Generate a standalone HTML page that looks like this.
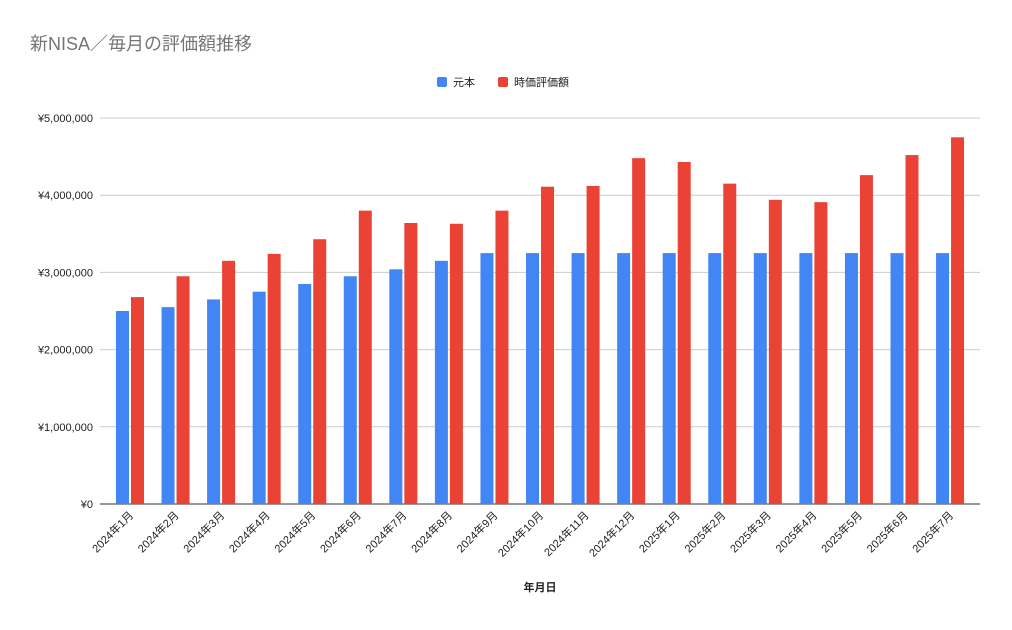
<!DOCTYPE html>
<html><head><meta charset="utf-8"><style>
body{margin:0;background:#fff;font-family:"Liberation Sans","Noto Sans CJK JP",sans-serif}
</style></head><body>
<svg id="c" width="1012" height="625" xmlns="http://www.w3.org/2000/svg" font-family="Liberation Sans, Noto Sans CJK JP, sans-serif">
<rect width="1012" height="625" fill="#fff"/>
<text x="30" y="50" font-size="18" fill="#757575">新NISA／毎月の評価額推移</text>
<g>
<rect x="437" y="77" width="10" height="10" rx="2" fill="#4285f4"/>
<text x="453" y="86" font-size="11" fill="#222">元本</text>
<rect x="498" y="77" width="10" height="10" rx="2" fill="#ea4335"/>
<text x="514" y="86" font-size="11" fill="#222">時価評価額</text>
</g>
<g id="grid"></g><g id="bars"></g><g id="xl"></g>
<text x="540" y="591" font-size="11" font-weight="bold" text-anchor="middle" fill="#222">年月日</text>
</svg>
<script>
const categories=["2024年1月","2024年2月","2024年3月","2024年4月","2024年5月","2024年6月","2024年7月","2024年8月","2024年9月","2024年10月","2024年11月","2024年12月","2025年1月","2025年2月","2025年3月","2025年4月","2025年5月","2025年6月","2025年7月"];
const principal=[2500000,2550000,2650000,2750000,2850000,2950000,3040000,3150000,3250000,3250000,3250000,3250000,3250000,3250000,3250000,3250000,3250000,3250000,3250000];
const marketValue=[2680000,2950000,3150000,3240000,3430000,3800000,3640000,3630000,3800000,4110000,4120000,4480000,4430000,4150000,3940000,3910000,4260000,4520000,4750000];
const yTicks=[0,1000000,2000000,3000000,4000000,5000000];
const yTickLabels=["¥0","¥1,000,000","¥2,000,000","¥3,000,000","¥4,000,000","¥5,000,000"];
const NS="http://www.w3.org/2000/svg";
const y0=504,ppu=386/5000000,xs=107.2,band=45.56;
const y=v=>y0-v*ppu;
const x=i=>xs+band*(i+0.5);
function mk(t,a,p){const e=document.createElementNS(NS,t);for(const k in a)e.setAttribute(k,a[k]);p.appendChild(e);return e;}
const g=document.getElementById('grid');
yTicks.forEach((v,i)=>{
 const l=mk('line',{x1:100,x2:980,y1:y(v),y2:y(v),stroke:i==0?'#333':'#ccc','stroke-width':1},g);
 
 
 const t=mk('text',{x:93,y:y(v)+4,'font-size':11,'text-anchor':'end',fill:'#222'},g);
 t.textContent=yTickLabels[i];
 
 
});
const b=document.getElementById('bars'),xl=document.getElementById('xl');
categories.forEach((c,i)=>{
 const cx=x(i);
 const r1=mk('rect',{x:cx-14,y:y(principal[i]),width:13,height:y0-y(principal[i]),fill:'#4285f4'},b);
 
 
 const r2=mk('rect',{x:cx+1,y:y(marketValue[i]),width:13,height:y0-y(marketValue[i]),fill:'#ea4335'},b);
 
 
 const t=mk('text',{x:cx+4,y:516,'font-size':11,'text-anchor':'end',fill:'#222',transform:`rotate(-45 ${cx+4} 516)`},xl);
 t.textContent=c;
 
 
});
</script>
</body></html>
